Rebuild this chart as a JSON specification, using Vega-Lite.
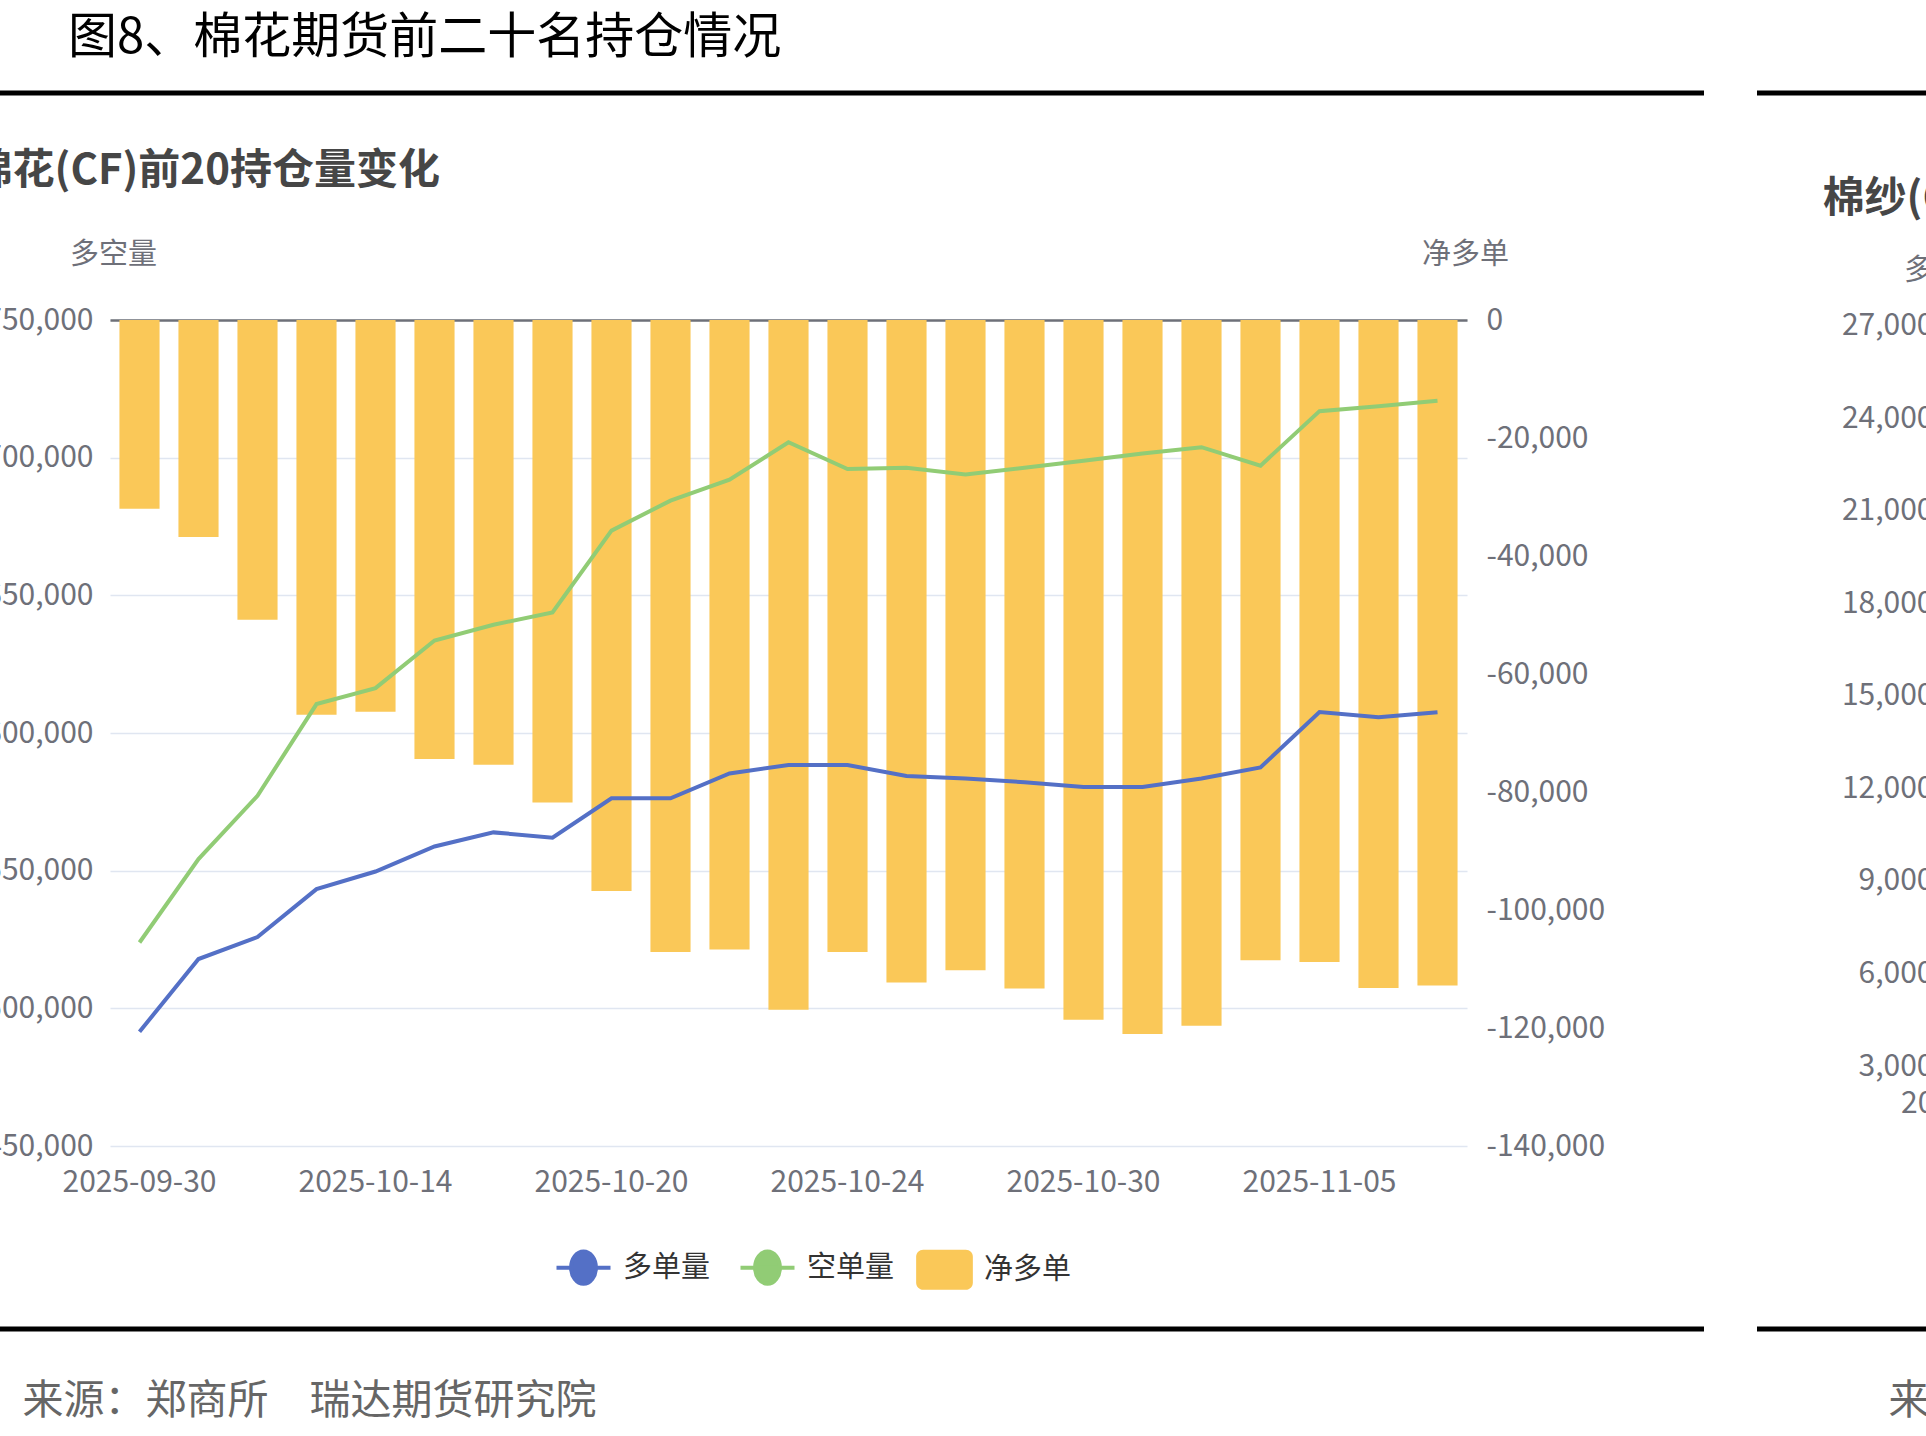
{
  "$schema": "https://vega.github.io/schema/vega-lite/v6.json",
  "width": 1926,
  "height": 1236,
  "autosize": {"type": "none"},
  "padding": {"left": 0, "top": 93, "right": 0, "bottom": 107},
  "background": "#ffffff",
  "title": {
    "text": "图8、棉花期货前二十名持仓情况",
    "anchor": "start",
    "frame": "group",
    "dx": 68,
    "offset": 30,
    "fontSize": 49,
    "fontWeight": "normal",
    "color": "#000000",
    "font": "Noto Sans CJK SC"
  },
  "data": {
    "values": [
      {"date": "2025-09-30", "多单量": 491500, "空单量": 523900, "净多单": -32000},
      {"date": "2025-10-09", "多单量": 517900, "空单量": 554200, "净多单": -36800},
      {"date": "2025-10-10", "多单量": 525900, "空单量": 577200, "净多单": -50800},
      {"date": "2025-10-13", "多单量": 543300, "空单量": 610500, "净多单": -66900},
      {"date": "2025-10-14", "多单量": 549700, "空单量": 616300, "净多单": -66400},
      {"date": "2025-10-15", "多单量": 558800, "空单量": 633600, "净多单": -74400},
      {"date": "2025-10-16", "多单量": 563900, "空单量": 639300, "净多单": -75400},
      {"date": "2025-10-17", "多单量": 562000, "空单量": 643800, "净多单": -81800},
      {"date": "2025-10-20", "多单量": 576300, "空单量": 673500, "净多单": -96800},
      {"date": "2025-10-21", "多单量": 576300, "空单量": 684400, "净多单": -107100},
      {"date": "2025-10-22", "多单量": 585300, "空单量": 692000, "净多单": -106700},
      {"date": "2025-10-23", "多单量": 588400, "空单量": 705600, "净多单": -116900},
      {"date": "2025-10-24", "多单量": 588400, "空单量": 695900, "净多单": -107100},
      {"date": "2025-10-27", "多单量": 584400, "空单量": 696300, "净多单": -112300},
      {"date": "2025-10-28", "多单量": 583500, "空单量": 693900, "净多单": -110200},
      {"date": "2025-10-29", "多单量": 582100, "空单量": 696300, "净多单": -113300},
      {"date": "2025-10-30", "多单量": 580400, "空单量": 698900, "净多单": -118600},
      {"date": "2025-10-31", "多单量": 580400, "空单量": 701500, "净多单": -121000},
      {"date": "2025-11-03", "多单量": 583500, "空单量": 703800, "净多单": -119600},
      {"date": "2025-11-04", "多单量": 587500, "空单量": 697100, "净多单": -108500},
      {"date": "2025-11-05", "多单量": 607600, "空单量": 716900, "净多单": -108800},
      {"date": "2025-11-06", "多单量": 605700, "空单量": 718700, "净多单": -113200},
      {"date": "2025-11-07", "多单量": 607500, "空单量": 720700, "净多单": -112800}
    ]
  },
  "layer": [
    {
      "mark": {"type": "bar"},
      "encoding": {
        "x": {
          "field": "date", "type": "ordinal", "sort": "ascending",
          "scale": {"type": "band", "range": [110, 1467], "paddingInner": 0.32, "paddingOuter": 0.16},
          "axis": {
            "orient": "top", "offset": -227, "labels": false, "ticks": false, "grid": false,
            "domain": true, "domainColor": "#6E7079", "domainWidth": 2.5, "zindex": 0,
            "title": "棉花(CF)前20持仓量变化", "titleX": -30, "titleY": -150,
            "titleAlign": "left", "titleAnchor": "start", "titleBaseline": "middle", "titleAngle": 0,
            "titleFontSize": 42, "titleFontWeight": "bold", "titleColor": "#464646", "titleLimit": 2000
          }
        },
        "y": {
          "field": "净多单", "type": "quantitative",
          "scale": {"domain": [-140000, 0], "range": [1053, 227], "nice": false, "zero": false},
          "axis": {
            "orient": "right", "offset": -459,
            "values": [0, -20000, -40000, -60000, -80000, -100000, -120000, -140000],
            "labelExpr": "replace(format(datum.value, ','), '−', '-')",
            "labelPadding": 19, "labelFontSize": 30, "labelColor": "#6E7079",
            "domain": false, "ticks": false, "grid": false,
            "title": "净多单", "titleX": -2, "titleY": 161, "titleAngle": 0,
            "titleAlign": "center", "titleBaseline": "middle",
            "titleFontSize": 29, "titleFontWeight": "normal", "titleColor": "#6E7079", "titleLimit": 2000
          }
        },
        "color": {
          "datum": "净多单", "type": "nominal",
          "scale": {"domain": ["多单量", "空单量", "净多单"], "range": ["#5470c6", "#91cc75", "#fac858"]}
        }
      }
    },
    {
      "transform": [{"fold": ["多单量", "空单量"], "as": ["series", "value"]}],
      "mark": {"type": "line", "strokeWidth": 4},
      "encoding": {
        "x": {
          "field": "date", "type": "ordinal", "sort": "ascending",
          "scale": {"type": "band", "range": [110, 1467], "paddingInner": 0.32, "paddingOuter": 0.16},
          "axis": {
            "orient": "bottom", "offset": -183,
            "values": ["2025-09-30", "2025-10-14", "2025-10-20", "2025-10-24", "2025-10-30", "2025-11-05"],
            "labelAngle": 0, "labelPadding": 21, "labelFontSize": 30, "labelColor": "#6E7079",
            "ticks": false, "domain": false, "grid": false,
            "title": "来源：郑商所　瑞达期货研究院", "titleX": 22, "titleY": 255,
            "titleAlign": "left", "titleBaseline": "middle", "titleAngle": 0,
            "titleFontSize": 41, "titleFontWeight": "normal", "titleColor": "#666666", "titleLimit": 2000
          }
        },
        "y": {
          "field": "value", "type": "quantitative",
          "scale": {"domain": [450000, 750000], "range": [1053, 227], "nice": false, "zero": false},
          "axis": {
            "orient": "left", "offset": -110,
            "values": [450000, 500000, 550000, 600000, 650000, 700000, 750000],
            "labelExpr": "format(datum.value, ',')",
            "labelPadding": 17, "labelFontSize": 30, "labelColor": "#6E7079",
            "domain": false, "ticks": false,
            "grid": true, "gridColor": "#E0E6F1", "gridWidth": 1.6,
            "title": "多空量", "titleX": 3, "titleY": 161, "titleAngle": 0,
            "titleAlign": "center", "titleBaseline": "middle",
            "titleFontSize": 29, "titleFontWeight": "normal", "titleColor": "#6E7079", "titleLimit": 2000
          }
        },
        "color": {
          "field": "series", "type": "nominal",
          "scale": {"domain": ["多单量", "空单量", "净多单"], "range": ["#5470c6", "#91cc75", "#fac858"]},
          "legend": {
            "orient": "none", "legendX": 569, "legendY": 1160, "direction": "horizontal",
            "title": null, "padding": 0,
            "labelFontSize": 29, "labelColor": "#333333", "labelOffset": 25, "columnPadding": 21,
            "symbolSize": 2916, "symbolStrokeWidth": 4,
            "encode": {
              "symbols": {
                "update": {
                  "shape": {"signal": "datum.value === '净多单' ? 'M-0.79,-0.74H0.79A0.26,0.26 0 0 1 1.05,-0.48V0.48A0.26,0.26 0 0 1 0.79,0.74H-0.79A0.26,0.26 0 0 1 -1.05,0.48V-0.48A0.26,0.26 0 0 1 -0.79,-0.74Z' : 'M-1,0H1M-0.46,0A0.46,0.6 0 1 0 0.46,0A0.46,0.6 0 1 0 -0.46,0Z'"},
                  "fill": {"signal": "scale('color', datum.value)"},
                  "stroke": {"signal": "scale('color', datum.value)"},
                  "strokeWidth": {"signal": "datum.value === '净多单' ? 0 : 4"},
                  "opacity": {"value": 1}
                }
              }
            }
          }
        }
      }
    },
    {
      "data": {"values": [{}]},
      "mark": {"type": "point", "opacity": 0},
      "encoding": {
        "x": {
          "datum": "2025-09-30", "type": "ordinal",
          "scale": {"type": "band", "domain": ["2025-09-30"], "range": [1958, 1998]},
          "axis": {
            "orient": "top", "offset": 0, "labels": false, "ticks": false, "domain": false, "grid": false,
            "title": "棉纱(CY)前20持仓量变化", "titleX": 1822, "titleY": 105,
            "titleAlign": "left", "titleBaseline": "middle", "titleAngle": 0,
            "titleFontSize": 42, "titleFontWeight": "bold", "titleColor": "#464646", "titleLimit": 2000
          }
        },
        "y": {
          "datum": 3000, "type": "quantitative",
          "scale": {"domain": [3000, 27000], "range": [973, 232.5], "nice": false, "zero": false},
          "axis": {
            "orient": "left", "offset": -1940,
            "values": [3000, 6000, 9000, 12000, 15000, 18000, 21000, 24000, 27000],
            "labelExpr": "format(datum.value, ',')",
            "labelPadding": 7, "labelFontSize": 30, "labelColor": "#6E7079",
            "domain": false, "ticks": false, "grid": false,
            "title": "多空量", "titleX": 7, "titleY": 177, "titleAngle": 0,
            "titleAlign": "center", "titleBaseline": "middle",
            "titleFontSize": 29, "titleFontWeight": "normal", "titleColor": "#6E7079", "titleLimit": 2000
          }
        }
      }
    },
    {
      "data": {"values": [{}]},
      "mark": {"type": "point", "opacity": 0},
      "encoding": {
        "x": {
          "datum": "2025-09-30", "type": "ordinal",
          "scale": {"type": "band", "domain": ["2025-09-30"], "range": [1958, 1998]},
          "axis": {
            "orient": "bottom", "offset": -249, "labelAngle": 0, "labelPadding": 8,
            "labelFontSize": 30, "labelColor": "#6E7079",
            "ticks": false, "domain": false, "grid": false,
            "title": "来源：郑商所　瑞达期货研究院", "titleX": 1888, "titleY": 321,
            "titleAlign": "left", "titleBaseline": "middle", "titleAngle": 0,
            "titleFontSize": 41, "titleFontWeight": "normal", "titleColor": "#666666", "titleLimit": 2000
          }
        }
      }
    }
  ],
  "resolve": {
    "scale": {"x": "independent", "y": "independent"},
    "axis": {"x": "independent", "y": "independent"}
  },
  "config": {
    "font": "Noto Sans CJK SC",
    "view": {"stroke": "#000000", "strokeWidth": 5, "strokeDash": [1704, 53, 169, 1236, 169, 53, 1704, 1236]},
    "axis": {"labelFont": "Noto Sans CJK SC", "titleFont": "Noto Sans CJK SC"},
    "legend": {"labelFont": "Noto Sans CJK SC"}
  }
}
